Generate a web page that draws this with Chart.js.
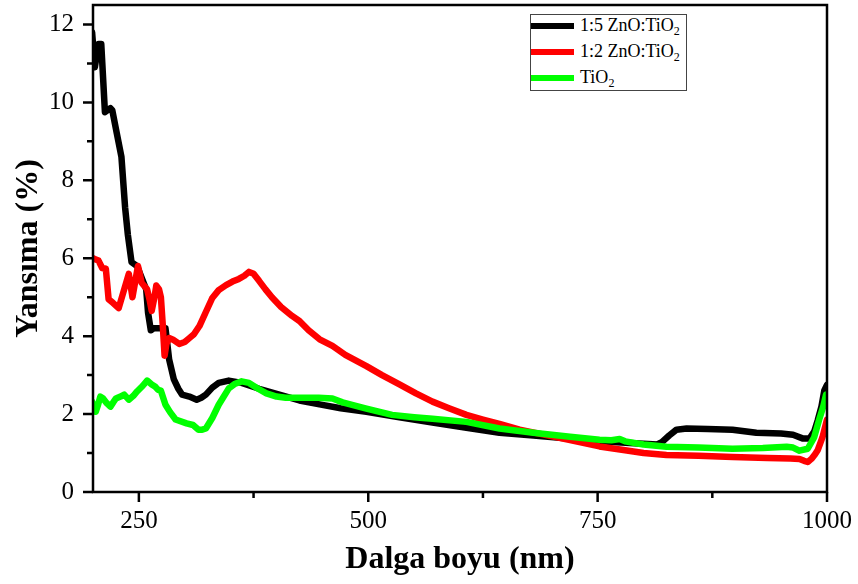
<!DOCTYPE html>
<html><head><meta charset="utf-8">
<script src="https://cdn.jsdelivr.net/npm/chart.js@4/dist/chart.umd.min.js"></script>
<style>
html,body{margin:0;padding:0;background:#fff;}
#wrap{position:relative;width:858px;height:584px;}
#legend{position:absolute;left:530px;top:14px;width:157px;height:77px;border:1px solid #444;box-sizing:border-box;background:#fff;font-family:"Liberation Serif",serif;font-size:18px;color:#000;}
.sw{position:absolute;left:0px;width:43px;height:6px;}
.lab{position:absolute;left:49px;white-space:nowrap;line-height:20px;}
.lab sub{font-size:12px;vertical-align:-4px;line-height:0;}
</style></head>
<body>
<div id="wrap">
<canvas id="c" width="858" height="584"></canvas>
<div id="legend">
  <div class="sw" style="top:8px;background:#000"></div>
  <div class="lab" style="top:0px">1:5 ZnO:TiO<sub>2</sub></div>
  <div class="sw" style="top:34px;background:#ff0000"></div>
  <div class="lab" style="top:26px">1:2 ZnO:TiO<sub>2</sub></div>
  <div class="sw" style="top:60px;background:#00ff00"></div>
  <div class="lab" style="top:52px">TiO<sub>2</sub></div>
</div>
</div>
<script>
const seriesNames = ['1:5 ZnO:TiO2', '1:2 ZnO:TiO2', 'TiO2'];
const xMajorTicks = [250, 500, 750, 1000];
const xMinorTicks = [375, 625, 875];
const yMajorTicks = [0, 2, 4, 6, 8, 10, 12];
const yMinorTicks = [1, 3, 5, 7, 9, 11];

const blackX = [199,202,204,206,209,213,216,219,221,226,231,235,238,242,248,253,258,260,263,266,270,275,279,281,283,288,293,297,305,313,318,323,330,337,348,362,381,403,425,447,470,498,534,570,607,643,680,715,752,790,815,820,828,836,847,870,897,923,950,963,974,981,986,990,994,997,1000];
const blackY = [11.8,10.9,11.2,11.5,11.5,9.75,9.8,9.85,9.8,9.2,8.6,7.3,6.6,5.9,5.8,5.5,5.2,4.6,4.15,4.2,4.2,4.2,4.2,3.8,3.4,2.9,2.65,2.5,2.45,2.37,2.42,2.5,2.68,2.8,2.86,2.8,2.65,2.5,2.35,2.25,2.15,2.06,1.92,1.78,1.65,1.52,1.45,1.38,1.3,1.25,1.22,1.28,1.45,1.6,1.63,1.62,1.6,1.52,1.5,1.47,1.37,1.37,1.55,1.85,2.2,2.6,2.75];

const redX = [199,203,206,210,214,217,222,228,234,239,241,243,246,249,251,253,259,262,264,267,269,272,274,276,278,280,283,288,294,300,305,310,316,323,330,337,345,352,359,365,370,375,381,388,395,405,417,425,435,447,461,475,498,515,534,552,570,588,607,625,643,665,690,720,752,780,800,825,860,897,935,960,970,975,979,983,987,990,995,1000];
const redY = [6.01,5.97,5.94,5.75,5.73,4.95,4.85,4.72,5.2,5.6,5.3,5.0,5.4,5.8,5.6,5.37,5.2,4.9,4.65,5.0,5.3,5.2,5.0,4.3,3.5,3.8,3.95,3.9,3.8,3.85,3.95,4.05,4.26,4.62,4.98,5.18,5.31,5.4,5.47,5.55,5.65,5.6,5.42,5.2,5.0,4.75,4.52,4.39,4.15,3.92,3.75,3.52,3.23,3.0,2.76,2.53,2.32,2.15,1.98,1.86,1.75,1.6,1.48,1.33,1.17,1.07,1.0,0.95,0.93,0.9,0.87,0.86,0.85,0.8,0.77,0.85,0.97,1.08,1.4,1.86];

const greenX = [199,201,203,205,208,211,215,219,222,225,230,234,239,244,248,254,259,264,268,271,274,279,284,290,302,309,315,319,323,330,337,348,355,362,370,380,389,400,410,425,446,461,472,498,526,550,570,607,643,680,720,752,765,774,780,800,825,860,897,930,956,963,970,979,986,992,996,999];
const greenY = [2.32,2.2,2.06,2.2,2.45,2.4,2.28,2.19,2.3,2.4,2.45,2.5,2.37,2.47,2.58,2.72,2.86,2.76,2.7,2.62,2.6,2.24,2.05,1.86,1.76,1.72,1.6,1.6,1.63,1.9,2.24,2.66,2.78,2.84,2.8,2.65,2.53,2.45,2.42,2.42,2.42,2.4,2.3,2.14,1.98,1.92,1.88,1.8,1.63,1.52,1.42,1.34,1.33,1.36,1.3,1.22,1.16,1.14,1.11,1.13,1.16,1.14,1.06,1.11,1.4,1.9,2.2,2.5];

function pts(xs, ys) { return xs.map((x, i) => ({x: x, y: ys[i]})); }

const framePlugin = {
  id: 'frame',
  afterDatasetsDraw(chart) {
    const ctx = chart.ctx, a = chart.chartArea;
    const xs = chart.scales.x, ys = chart.scales.y;
    ctx.save();
    ctx.strokeStyle = '#000';
    ctx.lineWidth = 2.5;
    ctx.strokeRect(a.left, a.top, a.right - a.left, a.bottom - a.top);
    ctx.beginPath();
    xMajorTicks.forEach(v => { const p = xs.getPixelForValue(v); ctx.moveTo(p, a.bottom); ctx.lineTo(p, a.bottom + 10); });
    xMinorTicks.forEach(v => { const p = xs.getPixelForValue(v); ctx.moveTo(p, a.bottom); ctx.lineTo(p, a.bottom + 6); });
    yMajorTicks.forEach(v => { const p = ys.getPixelForValue(v); ctx.moveTo(a.left, p); ctx.lineTo(a.left - 10, p); });
    yMinorTicks.forEach(v => { const p = ys.getPixelForValue(v); ctx.moveTo(a.left, p); ctx.lineTo(a.left - 6, p); });
    ctx.stroke();
    ctx.restore();
  }
};

const tickFont = {family: '"Liberation Serif", serif', size: 25};
const titleFont = {family: '"Liberation Serif", serif', size: 32, weight: 'bold'};

function zeroPad(s) { s.paddingLeft = 0; s.paddingRight = 0; s.paddingTop = 0; s.paddingBottom = 0; }

new Chart(document.getElementById('c'), {
  type: 'scatter',
  data: {
    datasets: [
      {label: seriesNames[0], data: pts(blackX, blackY), borderColor: '#000000', order: 3},
      {label: seriesNames[1], data: pts(redX, redY), borderColor: '#ff0000', order: 2},
      {label: seriesNames[2], data: pts(greenX, greenY), borderColor: '#00ff00', order: 1}
    ].map(d => Object.assign(d, {showLine: true, pointRadius: 0, borderWidth: 6.5, borderJoinStyle: 'round', borderCapStyle: 'round', tension: 0, fill: false}))
  },
  options: {
    responsive: false,
    animation: false,
    devicePixelRatio: 1,
    layout: {padding: {left: 0, top: 5, right: 31, bottom: 0}},
    plugins: {legend: {display: false}, tooltip: {enabled: false}},
    scales: {
      x: {
        type: 'linear', min: 200, max: 1000,
        afterBuildTicks: s => { s.ticks = xMajorTicks.map(v => ({value: v})); },
        afterFit: s => { s.height = 92; zeroPad(s); },
        grid: {display: false, drawTicks: false},
        border: {display: false},
        ticks: {font: tickFont, color: '#000', padding: 14, maxRotation: 0, callback: v => String(v)},
        title: {display: true, text: 'Dalga boyu (nm)', font: titleFont, color: '#000', padding: {top: 0, bottom: 5}}
      },
      y: {
        type: 'linear', min: 0, max: 12.5,
        afterBuildTicks: s => { s.ticks = yMajorTicks.map(v => ({value: v})); },
        afterFit: s => { s.width = 93; zeroPad(s); },
        grid: {display: false, drawTicks: false},
        border: {display: false},
        ticks: {font: tickFont, color: '#000', padding: 19, callback: v => String(v)},
        title: {display: true, text: 'Yansıma (%)', font: titleFont, color: '#000', padding: {top: 10, bottom: 0}}
      }
    }
  },
  plugins: [framePlugin]
});
</script>
</body></html>
